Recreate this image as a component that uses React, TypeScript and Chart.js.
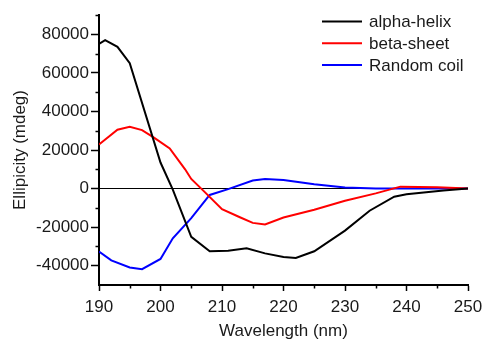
import React, { useEffect, useRef } from 'react';
import { Chart, registerables } from 'chart.js';

Chart.register(...registerables);

const seriesLabels = ['alpha-helix', 'beta-sheet', 'Random coil'];
const seriesColors = ['#000000', '#ff0000', '#0000ff'];

const alphaWavelengths = [190, 191, 193, 195, 200, 202, 205, 208, 211, 214, 217, 220, 222, 225, 230, 234, 238, 240, 246, 250];
const alphaValues = [75000, 77000, 73500, 65000, 13500, -500, -25000, -32500, -32200, -31000, -33600, -35500, -36000, -32500, -21800, -11500, -4200, -3000, -1000, 0];

const betaWavelengths = [190, 193, 195, 197, 199, 201.5, 204, 205, 207, 210, 213, 215, 217, 220, 225, 230, 235, 239, 245, 250];
const betaValues = [22900, 30500, 32000, 30300, 26300, 20800, 10000, 5000, -1200, -10700, -15000, -17800, -18600, -15000, -11000, -6300, -2500, 1000, 700, 0];

const coilWavelengths = [190, 192, 195, 197, 200, 202, 205, 208, 211, 215, 217, 220, 225, 230, 235, 250];
const coilValues = [-32600, -37200, -40900, -41800, -36500, -25800, -15300, -3300, -300, 4200, 5000, 4500, 2300, 500, 0, 0];

const xTickValues = [190, 200, 210, 220, 230, 240, 250];
const xMinorTickValues = [195, 205, 215, 225, 235, 245];
const yTickValues = [-40000, -20000, 0, 20000, 40000, 60000, 80000];
const yMinorTickValues = [-30000, -10000, 10000, 30000, 50000, 70000, 90000];

const FONT = '"Liberation Sans", Arial, sans-serif';
const TEXT = '#1a1a1a';

const toPoints = (xs: number[], ys: number[]) => xs.map((x, i) => ({ x, y: ys[i] }));

const minorTicksPlugin = {
  id: 'minorTicks',
  afterDraw(chart: any) {
    const { ctx, scales } = chart;
    const x = scales.x;
    const y = scales.y;
    ctx.save();
    ctx.strokeStyle = '#000';
    ctx.lineWidth = 1.5;
    ctx.beginPath();
    xMinorTickValues.forEach((v) => {
      const px = Math.round(x.getPixelForValue(v)) + 0.5;
      ctx.moveTo(px, x.top);
      ctx.lineTo(px, x.top + 3.5);
    });
    yMinorTickValues.forEach((v) => {
      const py = Math.round(y.getPixelForValue(v)) + 0.5;
      ctx.moveTo(y.right - 3.5, py);
      ctx.lineTo(y.right, py);
    });
    ctx.stroke();
    ctx.restore();
  },
};

const insideLegendPlugin = {
  id: 'insideLegend',
  afterDraw(chart: any) {
    const { ctx, chartArea } = chart;
    const lineStart = chartArea.right - 146;
    const lineEnd = chartArea.right - 106;
    const textX = chartArea.right - 99;
    ctx.save();
    ctx.font = `17px ${FONT}`;
    ctx.textBaseline = 'middle';
    ctx.textAlign = 'left';
    chart.data.datasets.forEach((ds: any, i: number) => {
      const cy = chartArea.top + 6.5 + i * 21.8;
      ctx.strokeStyle = ds.borderColor;
      ctx.lineWidth = 2;
      ctx.beginPath();
      ctx.moveTo(lineStart, cy);
      ctx.lineTo(lineEnd, cy);
      ctx.stroke();
      ctx.fillStyle = TEXT;
      ctx.fillText(ds.label, textX, cy + 1);
    });
    ctx.restore();
  },
};

export default function App() {
  const canvasRef = useRef<HTMLCanvasElement | null>(null);

  useEffect(() => {
    if (!canvasRef.current) return;
    const datasets = [
      toPoints(alphaWavelengths, alphaValues),
      toPoints(betaWavelengths, betaValues),
      toPoints(coilWavelengths, coilValues),
    ].map((data, i) => ({
      label: seriesLabels[i],
      data,
      borderColor: seriesColors[i],
      backgroundColor: seriesColors[i],
      borderWidth: 2,
      pointRadius: 0,
      tension: 0,
      showLine: true,
      fill: false,
    }));

    const chart = new Chart(canvasRef.current, {
      type: 'scatter',
      data: { datasets },
      options: {
        animation: false,
        responsive: false,
        devicePixelRatio: 1,
        layout: { padding: { left: 0, top: 15, right: 16, bottom: 0 } },
        plugins: {
          legend: { display: false },
          tooltip: { enabled: false },
        },
        scales: {
          x: {
            type: 'linear',
            min: 190,
            max: 250,
            afterBuildTicks: (s: any) => {
              s.ticks = xTickValues.map((v) => ({ value: v }));
            },
            afterFit: (s: any) => {
              s.height = 56;
              s.paddingLeft = 0;
              s.paddingRight = 0;
            },
            ticks: {
              autoSkip: false,
              maxRotation: 0,
              padding: 6,
              color: TEXT,
              font: { family: FONT, size: 17 },
              callback: (v: any) => String(v),
            },
            grid: {
              drawOnChartArea: false,
              drawTicks: true,
              tickLength: 6,
              tickColor: '#000',
              tickWidth: 1.5,
            },
            border: { display: true, color: '#000', width: 2 },
            title: {
              display: true,
              text: 'Wavelength (nm)',
              color: TEXT,
              font: { family: FONT, size: 17 },
              padding: { top: 0, bottom: -1 },
            },
          },
          y: {
            type: 'linear',
            min: -50000,
            max: 90000,
            afterBuildTicks: (s: any) => {
              s.ticks = yTickValues.map((v) => ({ value: v }));
            },
            afterFit: (s: any) => {
              s.width = 99;
              s.paddingTop = 0;
              s.paddingBottom = 0;
            },
            ticks: {
              padding: 2,
              color: TEXT,
              font: { family: FONT, size: 17 },
              callback: (v: any) => String(v),
            },
            grid: {
              drawOnChartArea: true,
              color: (c: any) => (c.tick && c.tick.value === 0 ? '#000' : 'rgba(0,0,0,0)'),
              lineWidth: 1,
              drawTicks: true,
              tickLength: 8,
              tickColor: '#000',
              tickWidth: 1.5,
            },
            border: { display: true, color: '#000', width: 2 },
            title: {
              display: true,
              text: 'Ellipicity (mdeg)',
              color: TEXT,
              font: { family: FONT, size: 17 },
              padding: { top: 10, bottom: 0 },
            },
          },
        },
      },
      plugins: [minorTicksPlugin, insideLegendPlugin],
    } as any);

    return () => chart.destroy();
  }, []);

  return (
    <div style={{ position: 'fixed', left: 0, top: 0, width: 484, height: 341, background: '#fff' }}>
      <canvas ref={canvasRef} width={484} height={341} style={{ width: 484, height: 341 }} />
    </div>
  );
}
